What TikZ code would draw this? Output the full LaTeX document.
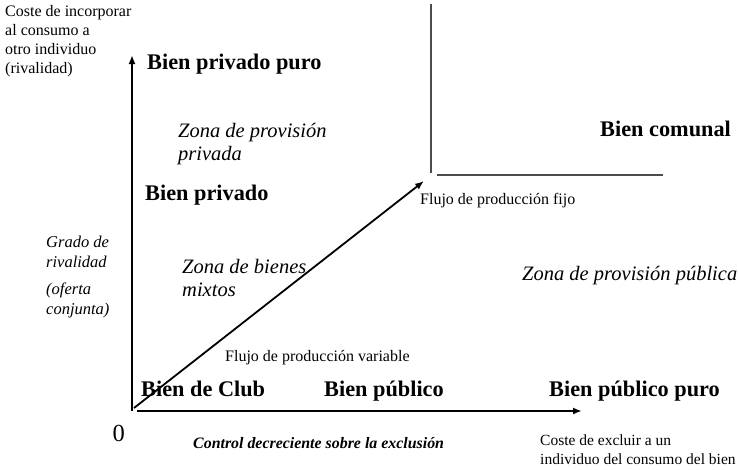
\documentclass[tikz,border=0pt]{standalone}
\usepackage{fontspec}
\setmainfont{Liberation Serif}
\usetikzlibrary{arrows.meta}
\tikzset{
  lbl/.style={inner sep=0pt, anchor=west, align=left},
  one/.style={inner sep=0pt, anchor=base west},
  big/.style={one, font=\fontsize{22.3}{26}\selectfont\bfseries},
  zona/.style={lbl, font=\fontsize{20.5}{23}\selectfont\itshape},
  small/.style={lbl, font=\fontsize{16}{19}\selectfont},
  smallone/.style={one, font=\fontsize{16}{19}\selectfont},
  sideit/.style={lbl, font=\fontsize{16.5}{20}\selectfont\itshape},
  axis/.style={line width=2.6pt, -{Latex[length=9pt,width=7pt]}},
  flow/.style={line width=1.8pt, -{Latex[length=9pt,width=7pt]}},
  bound/.style={line width=1.4pt, draw=black!70},
}
\begin{document}
\begin{tikzpicture}[x=1pt,y=-1pt]
\useasboundingbox (0,0) rectangle (738,469);
% axes
\coordinate (O) at (132,411);
\coordinate (Ox) at (137,411);
\coordinate (Ytop) at (132,55);
\coordinate (Xend) at (582,411);
\coordinate (D0) at (134,408);
\coordinate (D1) at (424,181);
\coordinate (V0) at (431,4);
\coordinate (V1) at (431,173);
\coordinate (H0) at (437,175);
\coordinate (H1) at (663,175);
\draw[axis] (O) -- (Ytop);
\draw[axis] (Ox) -- (Xend);
\draw[flow] (D0) -- (D1);
\draw[bound] (V0) -- (V1);
\draw[bound] (H0) -- (H1);
% labels
\node[small] (ycap) at (5,41.5) {Coste de incorporar\\al consumo a\\otro individuo\\(rivalidad)};
\node[big] (bpp) at (147,69.3) {Bien privado puro};
\node[zona] (zpp) at (178,144) {Zona de provisión\\privada};
\node[big] (bcom) at (600,136) {Bien comunal};
\node[smallone] (ffijo) at (420,204) {Flujo de producción fijo};
\node[big] (bpriv) at (145,200.5) {Bien privado};
\node[sideit] (grado) at (46,252) {Grado de\\rivalidad};
\node[sideit] (oferta) at (46,300) {(oferta\\conjunta)};
\node[zona] (zmix) at (182,277.5) {Zona de bienes\\mixtos};
\node[one, font=\fontsize{20.5}{23}\selectfont\itshape] (zpub) at (522,280.7) {Zona de provisión pública};
\node[smallone] (fvar) at (225,361.7) {Flujo de producción variable};
\node[big] (club) at (141,396) {Bien de Club};
\node[big] (bpub) at (324,396) {Bien público};
\node[big] (bpubp) at (549,396) {Bien público puro};
\node[one, font=\fontsize{24.5}{28}\selectfont] (zero) at (112.5,441.7) {0};
\node[one, font=\fontsize{15.9}{18}\selectfont\bfseries\itshape] (ctrl) at (193,448.3) {Control decreciente sobre la exclusión};
\node[lbl, font=\fontsize{15.5}{19}\selectfont] (xcap) at (540,449.5) {Coste de excluir a un\\individuo del consumo del bien};
\end{tikzpicture}
\end{document}
